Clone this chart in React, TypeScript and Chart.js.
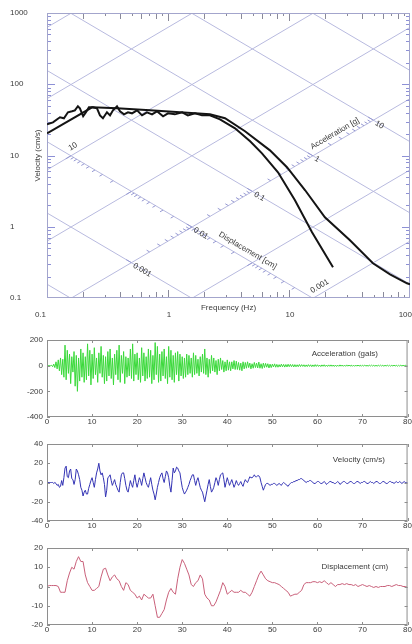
import React, { useEffect, useRef } from "react";
import { Chart, registerables } from "chart.js";

Chart.register(...registerables);

const FONT_FAMILY = "'Liberation Sans', Arial, sans-serif";
const TEXT_COLOR = "#3a3a3a";
const G_CM = 981; // 1 g in cm/s^2
const TWO_PI = 2 * Math.PI;

// ---------------- Tripartite response spectrum ----------------
const freqTickValues = [0.1, 1, 10, 100];
const velTickValues = [0.1, 1, 10, 100, 1000];
const dispGridValues = [0.001, 0.01, 0.1, 1, 10, 100, 1000]; // cm
const accGridValues = [0.0001, 0.001, 0.01, 0.1, 1, 10, 100]; // g
const accScaleLabels = [0.001, 0.01, 0.1, 1, 10];
const dispScaleLabels = [10, 0.001];
const dispScaleRange = [0.001, 10];
const ACC_AXIS_DISP = 0.1; // displacement line that carries the acceleration scale
const DISP_AXIS_ACC = 0.01; // acceleration line that carries the displacement scale
const ACC_TITLE_AT = 3.16; // g, between 1 and 10
const DISP_TITLE_AT = 0.0316; // cm, between 0.1 and 0.01

const spectrumFreqA = [0.1, 0.112, 0.128, 0.138, 0.149, 0.161, 0.17, 0.18, 0.187, 0.199, 0.21, 0.222, 0.24, 0.259, 0.274, 0.29, 0.313, 0.332, 0.351, 0.379, 0.401, 0.433, 0.467, 0.504, 0.555, 0.61, 0.67, 0.738, 0.811, 0.91, 1.0, 1.14, 1.31, 1.46, 1.67, 1.91, 2.22, 2.69, 3.58, 4.77, 5.98, 8.11, 11.2, 15.5, 23.1];
const spectrumVelA = [27.4, 29.2, 34.4, 33.3, 40.4, 41.7, 43, 49.1, 45.9, 35.5, 40.4, 47.5, 47.5, 45.9, 36.6, 33.3, 40.4, 36.6, 43, 49.1, 41.7, 37.8, 40.4, 39.1, 43, 36.6, 40.4, 37.8, 41.7, 35.5, 39.1, 37.8, 40.4, 36.6, 39.1, 36.6, 36.6, 32.2, 24.1, 15.8, 10.7, 5.81, 2.35, 0.836, 0.27];

const spectrumFreqB = [0.1, 0.236, 0.379, 0.71, 1.26, 2.22, 2.96, 4.33, 6.96, 9.62, 13.6, 19.8, 31.9, 49.4, 68.4, 94.4, 100];
const spectrumVelB = [20.5, 47.5, 45.9, 43, 40.4, 37.8, 33.3, 21.9, 11.8, 6.84, 3.25, 1.36, 0.646, 0.307, 0.215, 0.161, 0.155];

// ---------------- Time histories ----------------
const timeTickStep = 10;
const timeMax = 80;

const accelDt = 0.25;
const accelValues = [
  0, 0, 1, -1, 3, -8, 12, -15, // 0-2 s
  30, -25, 45, -40, 60, -70, 50, -90, // 2-4
  160, -110, 120, -60, 90, -140, 70, -50, // 4-6
  110, -160, 80, -200, 60, -120, 130, -90, // 6-8
  100, -130, 70, -110, 170, -80, 120, -150, // 8-10
  90, -100, 140, -70, 60, -130, 100, -60, // 10-12
  150, -90, 80, -140, 70, -120, 110, -80, // 12-14
  130, -100, 60, -150, 90, -70, 120, -110, // 14-16
  160, -130, 80, -60, 110, -140, 70, -90, // 16-18
  60, -80, 130, -100, 170, -120, 90, -70, // 18-20
  100, -110, 60, -130, 140, -80, 100, -120, // 20-22
  70, -100, 130, -90, 120, -140, 80, -110, // 22-24
  180, -70, 150, -130, 90, -120, 110, -80, // 24-26
  130, -100, 70, -140, 150, -90, 120, -110, // 26-28
  80, -130, 100, -70, 110, -120, 90, -80, // 28-30
  70, -100, 60, -90, 90, -70, 80, -60, // 30-32
  60, -90, 100, -70, 80, -60, 50, -80, // 32-34
  70, -50, 90, -60, 130, -70, 60, -90, // 34-36
  50, -60, 80, -40, 60, -50, 40, -70, // 36-38
  50, -40, 60, -30, 40, -50, 30, -40, // 38-40
  45, -35, 30, -40, 30, -25, 40, -30, // 40-42
  35, -30, 25, -35, 20, -40, 30, -25, // 42-44
  25, -20, 30, -15, 20, -25, 15, -20, // 44-46
  25, -15, 20, -18, 28, -20, 15, -22, // 46-48
  20, -15, 18, -12, 15, -18, 12, -15, // 48-50
  12, -10, 14, -12, 10, -12, 8, -10, // 50-52
  12, -9, 10, -11, 9, -10, 11, -8, // 52-54
  10, -8, 9, -10, 8, -9, 7, -8, // 54-56
  9, -7, 8, -6, 7, -8, 6, -7, // 56-58
  8, -6, 7, -8, 6, -7, 8, -6, // 58-60
  7, -6, 5, -7, 6, -5, 7, -6, // 60-62
  5, -6, 6, -5, 6, -5, 5, -6, // 62-64
  5, -6, 4, -5, 6, -4, 5, -5, // 64-66
  4, -5, 6, -4, 5, -4, 4, -5, // 66-68
  4, -5, 5, -4, 5, -4, 4, -5, // 68-70
  4, -3, 5, -4, 3, -4, 4, -3, // 70-72
  4, -3, 3, -4, 3, -4, 4, -3, // 72-74
  4, -3, 3, -4, 3, -3, 4, -3, // 74-76
  3, -4, 3, -3, 4, -3, 3, -4, // 76-78
  3, -3, 4, -3, 3, -2, 3, -2, // 78-80
  0,
];

const velDt = 0.25;
const velValues = [
  0, 0, 0, 0, 0, 0, -1, 0, // 0-2 s
  -1, -3, -2, -5, -4, 2, -3, 5, // 2-4
  15, 17, 6, 5, 12, 14, 4, 3, // 4-6
  -2, 3, 14, 12, 8, 3, -5, -8, // 6-8
  -14, -10, -8, -12, -12, -6, -2, 2, // 8-10
  5, 0, -5, 3, 10, 14, 20, 12, // 10-12
  8, 10, 5, -2, -15, -8, 5, 6, // 12-14
  8, 2, -3, 0, 3, -2, -5, -8, // 14-16
  -10, 0, 8, 10, 10, 4, -3, -8, // 16-18
  -10, -4, 2, -2, -5, 2, 8, 0, // 18-20
  -5, 0, 5, 2, -3, 4, 10, 5, // 20-22
  0, -3, -5, 0, 5, -2, -8, -12, // 22-24
  -18, -12, -5, 0, 5, 8, 10, 4, // 24-26
  0, 6, 12, 10, 5, -4, -10, 2, // 26-28
  15, 10, 12, 16, 15, 12, 10, 2, // 28-30
  -5, -9, -12, -10, -8, -5, -2, 2, // 30-32
  5, 8, 8, 2, -3, 2, 5, 0, // 32-34
  -5, -8, -10, -15, -20, -14, -8, -2, // 34-36
  3, -4, -10, -8, -5, 0, 5, 2, // 36-38
  -3, 3, 8, 9, 10, 3, -5, 0, // 38-40
  5, 1, -3, 0, 3, -1, -5, -2, // 40-42
  2, -1, -3, -1, 1, -2, -4, 0, // 42-44
  3, 1, 0, 3, 6, 5, 5, 6, // 44-46
  8, 6, 6, 7, 7, 5, 0, -4, // 46-48
  -8, -5, -2, -1, -1, -2, -3, -2, // 48-50
  -2, -1, -1, -2, -3, -2, -1, -2, // 50-52
  -3, -1, 0, -1, -2, -3, -4, -2, // 52-54
  -1, 0, 0, 1, 1, 2, 2, 3, // 54-56
  3, 4, 4, 3, 2, 1, 0, 1, // 56-58
  1, 2, 2, 1, 0, -1, -1, 0, // 58-60
  1, 1, 0, -1, -1, 0, 1, 0, // 60-62
  -2, -1, 0, 1, 1, 0, 0, -1, // 62-64
  -1, 0, 1, 0, -2, -1, 0, 1, // 64-66
  1, 0, -1, -1, 0, 1, 1, 0, // 66-68
  -1, -1, 0, 1, 1, 0, -1, 0, // 68-70
  0, 1, 1, 0, -1, -1, 0, 1, // 70-72
  0, 0, -1, 0, 1, 1, 0, -1, // 72-74
  -1, 0, 1, 1, 0, -1, -1, 0, // 74-76
  1, 1, 0, 0, -1, 0, 1, 0, // 76-78
  0, 1, 0, -1, 0, 1, 0, 0, // 78-80
  0,
];

const dispDt = 0.5;
const dispValues = [
  0, 0.5, 0.5, 0.5, 0.5, 0, -3, -3, -3, 3, // 0-5 s
  7, 10, 9, 13, 15.5, 13, 13, 6, 2, 0, // 5-10
  -2, -2, -1, 0, 5, 9, 9.5, 6, 3, 5, // 10-15
  6, 4, 3, 0, -2, 2, 1, -2, -3, -4, // 15-20
  -6, -5, -7, -4, -5, -6, -6, -4, -10, -16, // 20-25
  -16, -14, -12, -7, -3, -1, -3, -4, 4, 10, // 25-30
  14, 12, 9, 6, 1, 0, 2, 3, 6, 4, // 30-35
  -4, -6, -7, -10, -10, -8, -5, -2, 2, 0, // 35-40
  -4, -3, -2, -3, -3, -3, -2, -3, -3, -4, // 40-45
  -5, -3, 0, 3, 6, 8, 6, 4, 3, 2.5, // 45-50
  2, 2, 1.5, 1, 0, -1, -2, -3, -5, -4.5, // 50-55
  -4, -4, -3, -2, 1, 2, 2, 2, 2.5, 2.5, // 55-60
  2, 2.5, 2, 3, 2, 1, 2, 1, 0, 1, // 60-65
  1, 1.5, 1, 1.5, 1, 1, 0.5, 1, 0, 0.5, // 65-70
  1, 0.5, 0, 0.5, 0, -0.5, 0, -0.5, 0, 0, // 70-75
  0, 0.5, 0.5, 0, 0.5, 1, 0.5, 0.5, 0, 0, // 75-80
  -0.5,
];

// ---------------- helpers ----------------
const vAtDisp = (f: number, D: number) => TWO_PI * f * D;
const vAtAcc = (f: number, A: number) => (A * G_CM) / (TWO_PI * f);
const crossing = (D: number, A: number) => {
  const v = Math.sqrt(A * G_CM * D);
  return { f: v / (TWO_PI * D), v };
};
const logSteps = (lo: number, hi: number) => {
  const out: { v: number; m: number }[] = [];
  const k0 = Math.floor(Math.log10(lo) + 1e-9);
  const k1 = Math.ceil(Math.log10(hi) - 1e-9);
  for (let k = k0; k <= k1; k++) {
    for (let m = 1; m <= 9; m++) {
      const v = m * Math.pow(10, k);
      if (v >= lo * (1 - 1e-9) && v <= hi * (1 + 1e-9)) out.push({ v, m });
    }
  }
  return out;
};
const font = (size: number) => `${size}px ${FONT_FAMILY}`;

const tripartitePlugin = {
  id: "tripartite",
  beforeDatasetsDraw(chart: any) {
    const { ctx, chartArea: ca } = chart;
    const sx = chart.scales.x;
    const sy = chart.scales.y;
    const P = (f: number, v: number): [number, number] => [sx.getPixelForValue(f), sy.getPixelForValue(v)];
    const seg = (a: number[], b: number[]) => {
      ctx.beginPath();
      ctx.moveTo(a[0], a[1]);
      ctx.lineTo(b[0], b[1]);
      ctx.stroke();
    };
    const tick = (p: number[], q: number[], len: number) => {
      const dx = q[0] - p[0];
      const dy = q[1] - p[1];
      const n = Math.hypot(dx, dy);
      seg(p, [p[0] + (dx / n) * len, p[1] + (dy / n) * len]);
    };
    const fMin = sx.min, fMax = sx.max, vMin = sy.min, vMax = sy.max;

    ctx.save();
    ctx.beginPath();
    ctx.rect(ca.left, ca.top, ca.right - ca.left, ca.bottom - ca.top);
    ctx.clip();

    // diagonal grid
    ctx.strokeStyle = "#b8badf";
    ctx.lineWidth = 1;
    dispGridValues.forEach((D) => seg(P(fMin, vAtDisp(fMin, D)), P(fMax, vAtDisp(fMax, D))));
    accGridValues.forEach((A) => seg(P(fMin, vAtAcc(fMin, A)), P(fMax, vAtAcc(fMax, A))));

    // ticks along the diagonal scales
    ctx.strokeStyle = "#9598d2";
    logSteps(accScaleLabels[0], accScaleLabels[accScaleLabels.length - 1]).forEach(({ v: A, m }) => {
      const c = crossing(ACC_AXIS_DISP, A);
      tick(P(c.f, c.v), P(c.f / 10, c.v * 10), m === 1 ? 6 : 3.5);
    });
    logSteps(dispScaleRange[0], dispScaleRange[1]).forEach(({ v: D, m }) => {
      const c = crossing(D, DISP_AXIS_ACC);
      tick(P(c.f, c.v), P(c.f / 10, c.v / 10), m === 1 ? 6 : 3.5);
    });

    // frame minor ticks: velocity (left/right)
    ctx.strokeStyle = "#8d90d6";
    logSteps(vMin, vMax).forEach(({ v, m }) => {
      const y = Math.round(sy.getPixelForValue(v)) + 0.5;
      const len = m === 1 ? 8 : 4;
      seg([ca.left, y], [ca.left + len, y]);
      seg([ca.right, y], [ca.right - len, y]);
    });
    // frequency (top/bottom)
    ctx.strokeStyle = "#8a8a9a";
    logSteps(fMin, fMax).forEach(({ v, m }) => {
      const x = Math.round(sx.getPixelForValue(v)) + 0.5;
      const len = m === 1 ? 8 : m % 2 === 0 ? 6 : 3;
      seg([x, ca.bottom], [x, ca.bottom - len]);
      seg([x, ca.top], [x, ca.top + len]);
    });
    ctx.restore();

    // frame
    ctx.save();
    ctx.strokeStyle = "#a3a5cc";
    ctx.lineWidth = 1;
    ctx.strokeRect(ca.left + 0.5, ca.top + 0.5, ca.right - ca.left - 1, ca.bottom - ca.top - 1);

    // diagonal scale labels
    const aA = P(1, vAtAcc(1, 1));
    const bA = P(10, vAtAcc(10, 1));
    const angAcc = Math.atan2(bA[1] - aA[1], bA[0] - aA[0]);
    const aD = P(1, vAtDisp(1, 1));
    const bD = P(10, vAtDisp(10, 1));
    const angDisp = Math.atan2(bD[1] - aD[1], bD[0] - aD[0]);
    ctx.fillStyle = TEXT_COLOR;
    ctx.font = font(8);
    ctx.textBaseline = "middle";
    const drawRot = (txt: string, p: number[], ang: number, dx: number, dy: number, align: string) => {
      ctx.save();
      ctx.translate(p[0], p[1]);
      ctx.rotate(ang);
      ctx.textAlign = align;
      ctx.fillText(txt, dx, dy);
      ctx.restore();
    };
    accScaleLabels.forEach((A) => {
      const c = crossing(ACC_AXIS_DISP, A);
      drawRot(String(A), P(c.f, c.v), angAcc, 3, 1, "left");
    });
    dispScaleLabels.forEach((D) => {
      const c = crossing(D, DISP_AXIS_ACC);
      drawRot(String(D), P(c.f, c.v), angDisp, 2, -7, "left");
    });
    const cA = crossing(ACC_AXIS_DISP, ACC_TITLE_AT);
    drawRot("Acceleration [g]", P(cA.f, cA.v), angDisp, -5, -8, "center");
    const cD = crossing(DISP_TITLE_AT, DISP_AXIS_ACC);
    drawRot("Displacement [cm]", P(cD.f, cD.v), angAcc, 25, -8, "center");

    // frequency tick labels
    ctx.textAlign = "center";
    freqTickValues.forEach((f, i) => {
      const px = sx.getPixelForValue(f);
      if (i === 0) {
        ctx.textAlign = "right";
        ctx.fillText(String(f), px - 1, ca.bottom + 17);
      } else if (i === freqTickValues.length - 1) {
        ctx.textAlign = "right";
        ctx.fillText(String(f), chart.width, ca.bottom + 17);
      } else {
        ctx.textAlign = "center";
        ctx.fillText(String(f), px + 1, ca.bottom + 17);
      }
    });
    ctx.restore();
  },
};

function buildSpectrumConfig(): any {
  const curve = (fs: number[], vs: number[]) => ({
    data: fs.map((f, i) => ({ x: f, y: vs[i] })),
    borderColor: "#141414",
    borderWidth: 2,
    pointRadius: 0,
    tension: 0,
    xAxisID: "x",
    yAxisID: "y",
  });
  return {
    type: "line",
    data: { datasets: [curve(spectrumFreqA, spectrumVelA), curve(spectrumFreqB, spectrumVelB)] },
    options: {
      animation: false,
      responsive: false,
      events: [],
      layout: { padding: { left: 10, top: 13, right: 2, bottom: 0 } },
      plugins: { legend: { display: false }, tooltip: { enabled: false } },
      scales: {
        x: {
          type: "logarithmic",
          position: "bottom",
          min: 0.1,
          max: 100,
          afterBuildTicks: (s: any) => {
            s.ticks = freqTickValues.map((v) => ({ value: v }));
          },
          ticks: { display: false },
          grid: { display: false, drawTicks: false },
          border: { display: false },
          title: {
            display: true,
            text: "Frequency (Hz)",
            color: TEXT_COLOR,
            font: { family: FONT_FAMILY, size: 8 },
            padding: { top: 0, bottom: 12 },
          },
          afterFit: (s: any) => {
            s.height = 27;
          },
        },
        y: {
          type: "logarithmic",
          position: "left",
          weight: 1,
          min: 0.1,
          max: 1000,
          afterBuildTicks: (s: any) => {
            s.ticks = velTickValues.map((v) => ({ value: v }));
          },
          ticks: {
            crossAlign: "far",
            color: TEXT_COLOR,
            font: { family: FONT_FAMILY, size: 8 },
            autoSkip: false,
            callback: (v: number) => String(v),
          },
          grid: { display: false, drawTicks: false },
          border: { display: false },
          afterFit: (s: any) => {
            s.width = 23;
          },
        },
        yTitle: {
          type: "linear",
          axis: "y",
          position: "left",
          weight: 0,
          min: 0,
          max: 1,
          ticks: { display: false },
          grid: { display: false, drawTicks: false },
          border: { display: false },
          title: {
            display: true,
            text: "Velocity (cm/s)",
            color: TEXT_COLOR,
            font: { family: FONT_FAMILY, size: 8 },
            padding: { top: 0, bottom: 0 },
          },
          afterFit: (s: any) => {
            s.width = 14;
          },
        },
      },
    },
    plugins: [tripartitePlugin],
  };
}

const seriesFramePlugin = {
  id: "seriesFrame",
  afterDatasetsDraw(chart: any, _args: any, opts: any) {
    const { ctx, chartArea: ca } = chart;
    const sx = chart.scales.x;
    const sy = chart.scales.y;
    ctx.save();
    ctx.strokeStyle = "#8e8e8e";
    ctx.lineWidth = 1;
    ctx.strokeRect(ca.left + 0.5, ca.top + 0.5, ca.right - ca.left - 1, ca.bottom - ca.top - 1);
    const seg = (x1: number, y1: number, x2: number, y2: number) => {
      ctx.beginPath();
      ctx.moveTo(x1, y1);
      ctx.lineTo(x2, y2);
      ctx.stroke();
    };
    sx.ticks.forEach((t: any) => {
      const x = Math.round(sx.getPixelForValue(t.value)) + 0.5;
      seg(x, ca.bottom, x, ca.bottom - 3);
      seg(x, ca.top, x, ca.top + 3);
    });
    sy.ticks.forEach((t: any) => {
      const y = Math.round(sy.getPixelForValue(t.value)) + 0.5;
      seg(ca.left, y, ca.left + 3, y);
      seg(ca.right, y, ca.right - 3, y);
    });
    ctx.fillStyle = TEXT_COLOR;
    ctx.font = font(8);
    ctx.textAlign = "center";
    ctx.textBaseline = "middle";
    ctx.fillText(opts.label, ca.left + opts.labelCx * (ca.right - ca.left), ca.top + opts.labelDy);
    ctx.restore();
  },
};

type SeriesSpec = {
  values: number[];
  dt: number;
  color: string;
  yMin: number;
  yMax: number;
  yStep: number;
  label: string;
  labelCx: number;
  labelDy: number;
  height: number;
  padTop: number;
};

const PLOT_HEIGHT = 77;

function buildSeriesConfig(spec: SeriesSpec): any {
  return {
    type: "line",
    data: {
      datasets: [
        {
          data: spec.values.map((v, i) => ({ x: i * spec.dt, y: v })),
          borderColor: spec.color,
          borderWidth: 1,
          pointRadius: 0,
          tension: 0,
        },
      ],
    },
    options: {
      animation: false,
      responsive: false,
      events: [],
      layout: { padding: { left: 0, top: spec.padTop, right: 2, bottom: 0 } },
      plugins: {
        legend: { display: false },
        tooltip: { enabled: false },
        seriesFrame: { label: spec.label, labelCx: spec.labelCx, labelDy: spec.labelDy },
      },
      scales: {
        x: {
          type: "linear",
          min: 0,
          max: timeMax,
          ticks: {
            stepSize: timeTickStep,
            color: TEXT_COLOR,
            font: { family: FONT_FAMILY, size: 8 },
            padding: 0,
            maxRotation: 0,
            autoSkip: false,
          },
          grid: { display: false, drawTicks: false },
          border: { display: false },
          afterFit: (s: any) => {
            s.height = spec.height - spec.padTop - PLOT_HEIGHT;
          },
        },
        y: {
          type: "linear",
          min: spec.yMin,
          max: spec.yMax,
          ticks: {
            stepSize: spec.yStep,
            color: TEXT_COLOR,
            font: { family: FONT_FAMILY, size: 8 },
            padding: 4,
            autoSkip: false,
          },
          grid: { display: false, drawTicks: false },
          border: { display: false },
          afterFit: (s: any) => {
            s.width = 47;
          },
        },
      },
    },
    plugins: [seriesFramePlugin],
  };
}

const accelSpec: SeriesSpec = {
  values: accelValues, dt: accelDt, color: "#3bd93b", yMin: -400, yMax: 200, yStep: 200,
  label: "Acceleration (gals)", labelCx: 0.826, labelDy: 14, height: 105, padTop: 15,
};
const velSpec: SeriesSpec = {
  values: velValues, dt: velDt, color: "#3434b4", yMin: -40, yMax: 40, yStep: 20,
  label: "Velocity (cm/s)", labelCx: 0.865, labelDy: 16, height: 105, padTop: 14,
};
const dispSpec: SeriesSpec = {
  values: dispValues, dt: dispDt, color: "#c9607a", yMin: -20, yMax: 20, yStep: 10,
  label: "Displacement (cm)", labelCx: 0.854, labelDy: 19, height: 109, padTop: 13,
};

function ChartBox({ top, height, build }: { top: number; height: number; build: () => any }) {
  const ref = useRef<HTMLCanvasElement>(null);
  useEffect(() => {
    const chart = new Chart(ref.current as HTMLCanvasElement, build());
    return () => chart.destroy();
  }, []);
  return (
    <canvas
      ref={ref}
      width={412}
      height={height}
      style={{ position: "absolute", left: 0, top, width: 412, height, display: "block" }}
    />
  );
}

export default function App() {
  return (
    <div style={{ position: "absolute", left: 0, top: 0, width: 412, height: 644, background: "#ffffff", overflow: "hidden" }}>
      <ChartBox top={0} height={325} build={buildSpectrumConfig} />
      <ChartBox top={325} height={105} build={() => buildSeriesConfig(accelSpec)} />
      <ChartBox top={430} height={105} build={() => buildSeriesConfig(velSpec)} />
      <ChartBox top={535} height={109} build={() => buildSeriesConfig(dispSpec)} />
    </div>
  );
}
